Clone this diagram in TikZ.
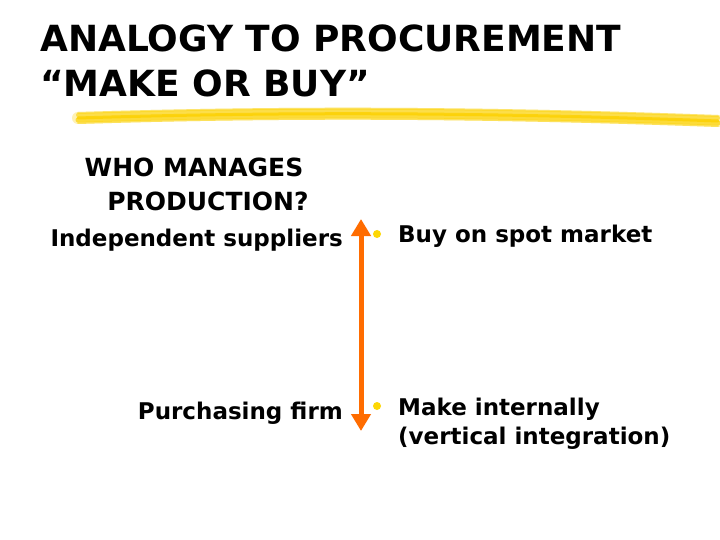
\documentclass[tikz,border=0pt]{standalone}
\usepackage{fontspec}
\setmainfont{DejaVu Sans}
\usetikzlibrary{arrows.meta}
\begin{document}
\begin{tikzpicture}[x=1pt,y=-1pt,
  title/.style={font=\fontsize{36}{40}\selectfont\bfseries,anchor=base west,inner sep=0},
  who/.style={font=\fontsize{25}{28}\selectfont\bfseries,inner sep=0,anchor=base},
  lbl/.style={font=\fontsize{23}{26}\selectfont\bfseries,inner sep=0},
  item/.style={font=\fontsize{23}{26}\selectfont\bfseries,anchor=base west,inner sep=0},
  bul/.style={circle,fill=yellow!75!orange,inner sep=0,minimum size=8}]
\fill[white] (0,0) rectangle (720,540);
\useasboundingbox (0,0) rectangle (720,540);
\node[title] (t1) at (40,52) {ANALOGY TO PROCUREMENT};
\node[title] (t2) at (40,97) {“MAKE OR BUY”};
% brush stroke
\foreach \dy/\op/\w in {0/0.3/12,-3/0.6/4,2/0.7/5,0/0.9/3,-5/0.4/2,5/0.5/2}{
  \draw[line width=\w,color=yellow!70!orange,opacity=\op,line cap=round]
    (78,{118+\dy}) .. controls (300,{111+\dy}) and (500,{113+\dy}) .. (718,{121+\dy});
}
\node[who] (w1) at (194,177) {WHO MANAGES};
\node[who] (w2) at (208,211) {PRODUCTION?};
\node[lbl,anchor=base east] (ind) at (343,247) {Independent suppliers};
\node[lbl,anchor=base east] (pur) at (343,419) {Purchasing f{}irm};
\coordinate (top) at (361,219);
\coordinate (bot) at (361,431);
\draw[draw=orange!85!red,line width=5,{Triangle[length=17,width=19]}-{Triangle[length=17,width=19]}] (top) -- (bot);
\node[bul] (b1) at (377,234) {};
\node[bul] (b2) at (377,406) {};
\node[item] (i1) at (398,243) {Buy on spot market};
\node[item] (i2) at (398,415) {Make internally};
\node[item] (i3) at (398,444) {(vertical integration)};
\end{tikzpicture}
\end{document}
